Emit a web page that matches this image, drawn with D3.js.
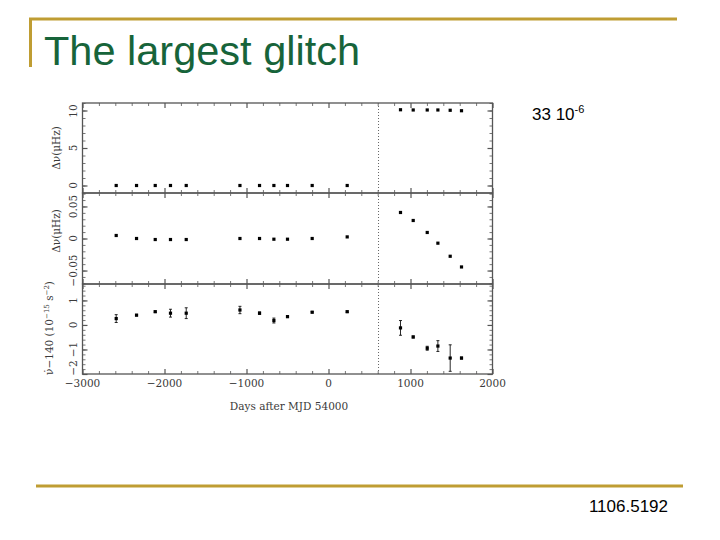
<!DOCTYPE html>
<html>
<head>
<meta charset="utf-8">
<script src="https://cdn.jsdelivr.net/npm/d3@7"></script>
<style>
  body { margin: 0; background: #fff; }
  svg { display: block; }
</style>
</head>
<body>
<div id="chart"></div>
<script>
// days after MJD 54000 for every timing solution
const days = [-2589, -2341, -2113, -1927, -1735, -1080, -841, -666, -500, -199, 228,
              878, 1033, 1204, 1334, 1484, 1622];
// top panel: frequency step (uHz)
const dNu = [0, 0, 0, 0, 0, 0, 0, 0, 0, 0, 0,
             10.1, 10.07, 10.07, 10.07, 10.03, 9.97];
// middle panel: residual frequency (uHz)
const dNuResid = [0.0047, 0, -0.0016, -0.0016, -0.0016, 0, 0, -0.0011, -0.0011, 0, 0.0025,
                  0.0406, 0.0281, 0.0094, -0.0073, -0.0277, -0.0444];
// bottom panel: nu-dot - 140 (1e-15 s^-2) and its error
const nuDot = [0.26, 0.40, 0.54, 0.48, 0.48, 0.61, 0.48, 0.18, 0.34, 0.52, 0.54,
               -0.12, -0.49, -0.95, -0.86, -1.35, -1.35];
const nuDotErr = [0.16, 0.03, 0.03, 0.16, 0.22, 0.15, 0.05, 0.1, 0.04, 0.03, 0.03,
                  0.3, 0.04, 0.08, 0.22, 0.54, 0.04];
const glitchDay = 610;
const xTicks = [-3000, -2000, -1000, 0, 1000, 2000];

const W = 720, H = 540;
const svg = d3.select("#chart").append("svg")
  .attr("width", W).attr("height", H);

// ---- slide decoration
const gold = "#bf9d33";
svg.append("line").attr("x1", 29).attr("x2", 677).attr("y1", 19).attr("y2", 19)
  .attr("stroke", gold).attr("stroke-width", 3);
svg.append("line").attr("x1", 30.5).attr("x2", 30.5).attr("y1", 18).attr("y2", 67)
  .attr("stroke", gold).attr("stroke-width", 3);
svg.append("line").attr("x1", 36).attr("x2", 683).attr("y1", 486).attr("y2", 486)
  .attr("stroke", gold).attr("stroke-width", 3);

svg.append("text").attr("x", 44).attr("y", 65)
  .attr("font-family", "Liberation Sans, Arial, sans-serif")
  .attr("font-size", 41.5).attr("fill", "#17643a")
  .text("The largest glitch");

const note = svg.append("text").attr("x", 532).attr("y", 120)
  .attr("font-family", "Liberation Sans, Arial, sans-serif")
  .attr("font-size", 17).attr("fill", "#000");
note.append("tspan").text("33 10");
note.append("tspan").attr("font-size", 11).attr("dy", -7).text("-6");

svg.append("text").attr("x", 668).attr("y", 512).attr("text-anchor", "end")
  .attr("font-family", "Liberation Sans, Arial, sans-serif")
  .attr("font-size", 17).attr("fill", "#000")
  .text("1106.5192");

// ---- figure
const ink = "#555";
const txt = "#3a3a3a";
const serif = "DejaVu Serif, serif";
const left = 82.5, right = 492.5;
const x = d3.scaleLinear().domain([-3000, 2000]).range([left, right]);

const panels = [
  { top: 103, bottom: 193, domain: [-1, 11], major: [0, 5, 10], minor: 1,
    vals: dNu, labels: ["0", "5", "10"] },
  { top: 193, bottom: 284, domain: [-0.071, 0.071], major: [-0.05, 0, 0.05], minor: 0.01,
    vals: dNuResid, labels: ["\u22120.05", "0", "0.05"] },
  { top: 284, bottom: 374, domain: [-2, 1.67], major: [-2, -1, 0, 1], minor: 0.2,
    vals: nuDot, err: nuDotErr, labels: ["\u22122", "\u22121", "0", "1"] }
];

const xMinor = d3.range(-3000, 2001, 200).filter(v => v % 1000 !== 0);

panels.forEach((p, pi) => {
  const y = d3.scaleLinear().domain(p.domain).range([p.bottom, p.top]);
  const g = svg.append("g");
  const yMinor = d3.range(Math.ceil(p.domain[0] / p.minor), Math.floor(p.domain[1] / p.minor) + 1)
    .map(k => +(k * p.minor).toFixed(4));

  const axes = [
    [d3.axisBottom(x), `translate(0,${p.bottom})`, xTicks, xMinor],
    [d3.axisTop(x), `translate(0,${p.top})`, xTicks, xMinor],
    [d3.axisLeft(y), `translate(${left},0)`, p.major, yMinor],
    [d3.axisRight(y), `translate(${right},0)`, p.major, yMinor]
  ];
  axes.forEach(([ax, tr, maj, min]) => {
    g.append("g").attr("transform", tr)
      .call(ax.tickValues(min).tickSizeInner(-3).tickSizeOuter(0).tickFormat(""))
      .call(s => s.select(".domain").remove())
      .call(s => s.selectAll("line").attr("stroke", "#777"));
    g.append("g").attr("transform", tr)
      .call(ax.tickValues(maj).tickSizeInner(-5).tickSizeOuter(0).tickFormat(""))
      .call(s => s.select(".domain").remove())
      .call(s => s.selectAll("line").attr("stroke", ink).attr("stroke-width", 1.2));
  });

  g.append("rect").attr("x", left).attr("y", p.top)
    .attr("width", right - left).attr("height", p.bottom - p.top)
    .attr("fill", "none").attr("stroke", ink).attr("stroke-width", 1.3);

  // rotated y tick labels
  g.selectAll(".ylab").data(p.major).enter().append("text")
    .attr("transform", d => `translate(73.5,${Math.min(Math.max(y(d), p.top + 8), p.bottom - 6)}) rotate(-90)`)
    .attr("text-anchor", "middle").attr("dy", "0.35em")
    .attr("font-family", serif).attr("font-size", 10.5).attr("fill", txt)
    .text((d, i) => p.labels[i]);

  // error bars
  if (p.err) {
    const eb = g.selectAll(".err").data(days).enter().append("g")
      .attr("stroke", "#111").attr("stroke-width", 0.9);
    eb.append("line")
      .attr("x1", d => x(d)).attr("x2", d => x(d))
      .attr("y1", (d, i) => y(p.vals[i] - p.err[i]))
      .attr("y2", (d, i) => y(p.vals[i] + p.err[i]));
    [-1, 1].forEach(sgn => {
      eb.append("line")
        .attr("x1", d => x(d) - 1.5).attr("x2", d => x(d) + 1.5)
        .attr("y1", (d, i) => y(p.vals[i] + sgn * p.err[i]))
        .attr("y2", (d, i) => y(p.vals[i] + sgn * p.err[i]));
    });
  }

  // points
  g.selectAll(".pt").data(days).enter().append("rect")
    .attr("x", d => x(d) - 1.6)
    .attr("y", (d, i) => y(p.vals[i]) - 1.6)
    .attr("width", 3.2).attr("height", 3.2)
    .attr("fill", "#000");
});

// glitch epoch
svg.append("line")
  .attr("x1", x(glitchDay)).attr("x2", x(glitchDay))
  .attr("y1", panels[0].top).attr("y2", panels[2].bottom)
  .attr("stroke", "#666").attr("stroke-width", 1).attr("stroke-dasharray", "1,2");

// x tick labels
svg.selectAll(".xlab").data(xTicks).enter().append("text")
  .attr("x", d => x(d)).attr("y", 387)
  .attr("text-anchor", "middle")
  .attr("font-family", serif).attr("font-size", 10.5).attr("fill", txt)
  .text(d => d < 0 ? "\u2212" + Math.abs(d) : d);

svg.append("text").attr("x", 289).attr("y", 410).attr("text-anchor", "middle")
  .attr("font-family", serif).attr("font-size", 10.5).attr("fill", txt)
  .text("Days after MJD 54000");

// y axis titles
function yTitle(cx, cy, build) {
  const t = svg.append("text")
    .attr("transform", `translate(${cx},${cy}) rotate(-90)`)
    .attr("text-anchor", "middle").attr("dy", "0.35em")
    .attr("font-family", serif).attr("font-size", 10.5).attr("fill", txt);
  build(t);
}
yTitle(56, 148, t => t.text("\u0394\u03bd(\u03bcHz)"));
yTitle(56, 231, t => t.text("\u0394\u03bd(\u03bcHz)"));
yTitle(49, 328, t => {
  t.append("tspan").text("\u03bd\u0307\u2212140 (10");
  t.append("tspan").attr("font-size", 7).attr("dy", -4).text("\u221215");
  t.append("tspan").attr("dy", 4).text(" s");
  t.append("tspan").attr("font-size", 7).attr("dy", -4).text("\u22122");
  t.append("tspan").attr("dy", 4).text(")");
});
</script>
</body>
</html>
